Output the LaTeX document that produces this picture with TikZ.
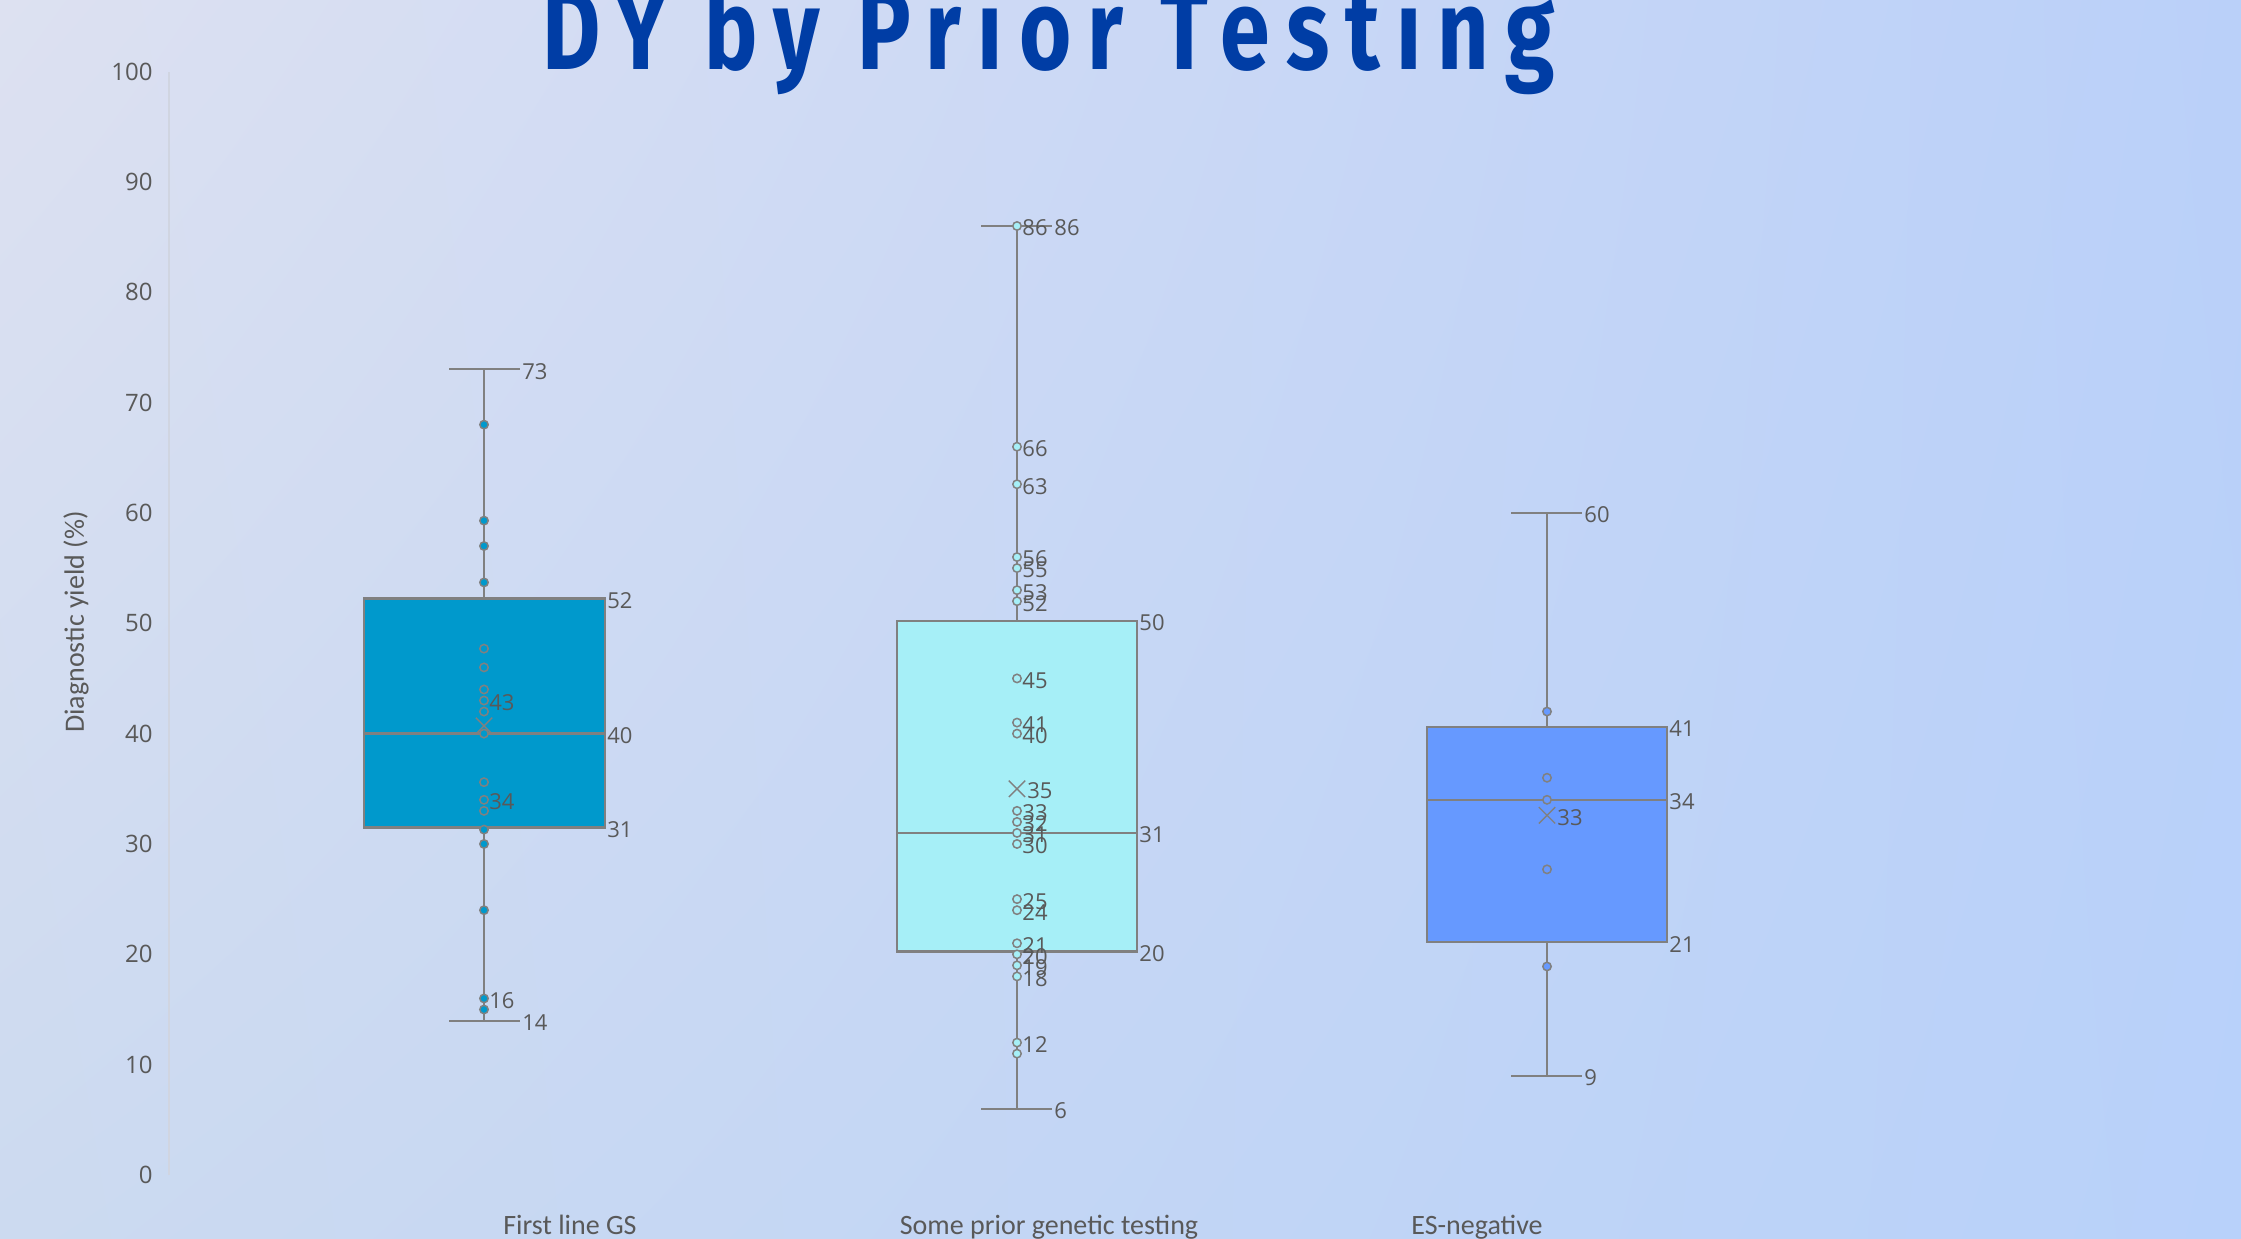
\documentclass[tikz,border=0pt]{standalone}
\usepackage{fontspec}
\setmainfont{Open Sans}
\newfontfamily\catfont{Carlito}
\newfontfamily\headfont[LetterSpace=18]{Fira Sans}
\usetikzlibrary{shapes.misc,shadings}

\definecolor{bgTL}{RGB}{221,225,241}
\definecolor{bgTR}{RGB}{186,208,249}
\definecolor{bgBL}{RGB}{204,218,240}
\definecolor{bgBR}{RGB}{184,209,250}
\definecolor{titleblue}{RGB}{0,61,165}
\definecolor{edgegray}{RGB}{128,128,128}
\definecolor{labelgray}{RGB}{89,89,89}
\definecolor{axisline}{RGB}{208,213,225}
\definecolor{fillA}{RGB}{0,153,204}
\definecolor{fillB}{RGB}{166,239,247}
\definecolor{fillC}{RGB}{102,153,255}

\begin{document}
\begin{tikzpicture}[x=0.5pt, y=-0.5pt,
  boxbody/.style={draw=edgegray, line width=1.2pt},
  whisker/.style={draw=edgegray, line width=1pt},
  dot/.style={circle, draw=edgegray, line width=0.75pt, inner sep=0pt, minimum size=4.2pt},
  meanmark/.style={cross out, draw=edgegray, line width=0.7pt, inner sep=0pt, minimum size=7.5pt},
  datalabel/.style={anchor=west, inner sep=0pt, text=labelgray, font=\fontsize{11}{11}\selectfont, yshift=-1pt},
  ticklabel/.style={anchor=east, inner sep=0pt, text=labelgray, font=\fontsize{12}{12}\selectfont},
  catlabel/.style={anchor=base, inner sep=0pt, text=labelgray, font=\catfont\fontsize{14}{14}\selectfont}]

\useasboundingbox (0,0) rectangle (2241,1238);
\clip (0,0) rectangle (2241,1238);
\shade[upper left=bgTL, upper right=bgTR, lower left=bgBL, lower right=bgBR] (0,0) rectangle (2241,1238);

% title
\node[anchor=base, inner sep=0pt, text=titleblue] (title) at (1049,69)
  {\resizebox{506pt}{\height}{\headfont\bfseries\fontsize{57}{60}\selectfont DY by Prior Testing}};

% axis title and category names
\node[rotate=90, inner sep=0pt, text=labelgray, font=\catfont\fontsize{14}{14}\selectfont] (ytitle) at (76,622) {Diagnostic yield (\%)};
\node[catlabel] (catA) at (570,1234) {First line GS};
\node[catlabel] (catB) at (1049,1234) {Some prior genetic testing};
\node[catlabel] (catC) at (1477,1234) {ES-negative};

% data area: x in pixels, y in percent
\begin{scope}[shift={(0,1175)}, y=5.5175pt]
  \coordinate (ax0) at (169,0);
  \coordinate (ax100) at (169,100);
  \draw[axisline, line width=1pt] (ax0) -- (ax100);
  \foreach \t in {0,10,...,100}
    \node[ticklabel] (tick\t) at (153,\t) {\t};

  % ---------- First line GS ----------
  \coordinate (A-sw) at (364,31.5);   \coordinate (A-ne) at (605,52.25);
  \coordinate (A-ml) at (364,40);     \coordinate (A-mr) at (605,40);
  \coordinate (A-q1) at (484,31.5);   \coordinate (A-q3) at (484,52.25);
  \coordinate (A-lo) at (484,14);     \coordinate (A-hi) at (484,73);
  \coordinate (A-loL) at (449,14);    \coordinate (A-loR) at (520,14);
  \coordinate (A-hiL) at (449,73);    \coordinate (A-hiR) at (520,73);
  \draw[boxbody, fill=fillA] (A-sw) rectangle (A-ne);
  \draw[boxbody] (A-ml) -- (A-mr);
  \draw[whisker] (A-q3) -- (A-hi);
  \draw[whisker] (A-q1) -- (A-lo);
  \draw[whisker] (A-hiL) -- (A-hiR);
  \draw[whisker] (A-loL) -- (A-loR);
  \foreach \v [count=\i] in {68,59.3,57,53.7,47.7,46,44,43,42,40,35.6,34,33,31.3,30,24,16,15}
    \node[dot, fill=fillA] (A\i) at (484,\v) {};
  \node[meanmark] (A-mean) at (484,40.7) {};
  \node[datalabel] (A-l73) at ([xshift=1pt]A-hiR) {73};
  \node[datalabel] (A-l52) at ([xshift=1pt]A-ne) {52};
  \node[datalabel] (A-l40) at ([xshift=1pt]A-mr) {40};
  \node[datalabel] (A-l31) at ([xshift=1pt]A-sw -| A-ne) {31};
  \node[datalabel] (A-l14) at ([xshift=1pt]A-loR) {14};
  \foreach \i/\t in {8/43,12/34,17/16}
    \node[datalabel] (A-p\i) at ([xshift=2.5pt]A\i.center) {\t};

  % ---------- Some prior genetic testing ----------
  \coordinate (B-sw) at (897,20.25);  \coordinate (B-ne) at (1137,50.2);
  \coordinate (B-ml) at (897,31);     \coordinate (B-mr) at (1137,31);
  \coordinate (B-q1) at (1017,20.25); \coordinate (B-q3) at (1017,50.2);
  \coordinate (B-lo) at (1017,6);     \coordinate (B-hi) at (1017,86);
  \coordinate (B-loL) at (981,6);     \coordinate (B-loR) at (1052,6);
  \coordinate (B-hiL) at (981,86);    \coordinate (B-hiR) at (1052,86);
  \draw[boxbody, fill=fillB] (B-sw) rectangle (B-ne);
  \draw[boxbody] (B-ml) -- (B-mr);
  \draw[whisker] (B-q3) -- (B-hi);
  \draw[whisker] (B-q1) -- (B-lo);
  \draw[whisker] (B-hiL) -- (B-hiR);
  \draw[whisker] (B-loL) -- (B-loR);
  \foreach \v [count=\i] in {86,66,62.6,56,55,53,52,45,41,40,33,32,31,30,25,24,21,20,19,18,12,11}
    \node[dot, fill=fillB] (B\i) at (1017,\v) {};
  \node[meanmark] (B-mean) at (1017,35) {};
  \node[datalabel] (B-l86) at ([xshift=1pt]B-hiR) {86};
  \node[datalabel] (B-l50) at ([xshift=1pt]B-ne) {50};
  \node[datalabel] (B-l31) at ([xshift=1pt]B-mr) {31};
  \node[datalabel] (B-l20) at ([xshift=1pt]B-sw -| B-ne) {20};
  \node[datalabel] (B-l6) at ([xshift=1pt]B-loR) {6};
  \node[datalabel] (B-lmean) at ([xshift=5pt]B-mean.center) {35};
  \foreach \i/\t in {1/86,2/66,3/63,4/56,5/55,6/53,7/52,8/45,9/41,10/40,11/33,12/32,13/31,14/30,15/25,16/24,17/21,18/20,19/19,20/18,21/12}
    \node[datalabel] (B-p\i) at ([xshift=2.5pt]B\i.center) {\t};

  % ---------- ES-negative ----------
  \coordinate (C-sw) at (1427,21.1);  \coordinate (C-ne) at (1667,40.6);
  \coordinate (C-ml) at (1427,34);    \coordinate (C-mr) at (1667,34);
  \coordinate (C-q1) at (1547,21.1);  \coordinate (C-q3) at (1547,40.6);
  \coordinate (C-lo) at (1547,9);     \coordinate (C-hi) at (1547,60);
  \coordinate (C-loL) at (1511,9);    \coordinate (C-loR) at (1582,9);
  \coordinate (C-hiL) at (1511,60);   \coordinate (C-hiR) at (1582,60);
  \draw[boxbody, fill=fillC] (C-sw) rectangle (C-ne);
  \draw[boxbody] (C-ml) -- (C-mr);
  \draw[whisker] (C-q3) -- (C-hi);
  \draw[whisker] (C-q1) -- (C-lo);
  \draw[whisker] (C-hiL) -- (C-hiR);
  \draw[whisker] (C-loL) -- (C-loR);
  \foreach \v [count=\i] in {42,36,34,27.7,18.9}
    \node[dot, fill=fillC] (C\i) at (1547,\v) {};
  \node[meanmark] (C-mean) at (1547,32.6) {};
  \node[datalabel] (C-l60) at ([xshift=1pt]C-hiR) {60};
  \node[datalabel] (C-l41) at ([xshift=1pt]C-ne) {41};
  \node[datalabel] (C-l34) at ([xshift=1pt]C-mr) {34};
  \node[datalabel] (C-l21) at ([xshift=1pt]C-sw -| C-ne) {21};
  \node[datalabel] (C-l9) at ([xshift=1pt]C-loR) {9};
  \node[datalabel] (C-lmean) at ([xshift=5pt]C-mean.center) {33};
\end{scope}
\end{tikzpicture}
\end{document}
